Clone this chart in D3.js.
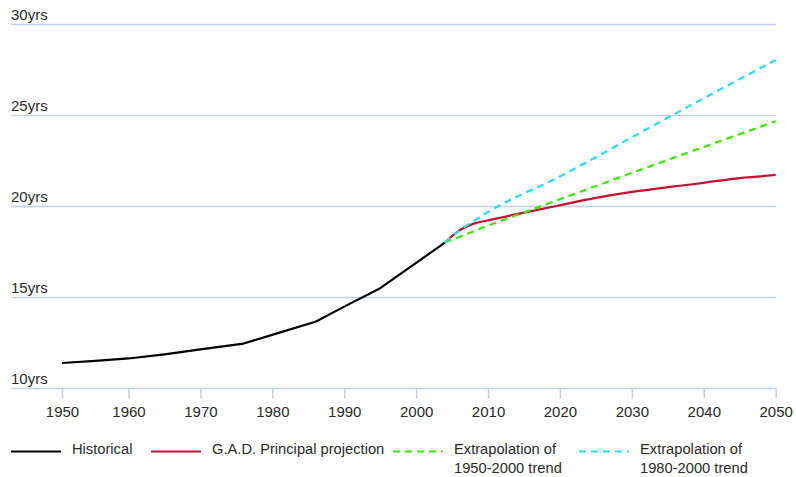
<!DOCTYPE html>
<html>
<head>
<meta charset="utf-8">
<script src="https://cdn.jsdelivr.net/npm/d3@7"></script>
<style>
  html, body { margin: 0; padding: 0; background: #fff; }
  svg { display: block; }
  text { font-family: "Liberation Sans", Arial, sans-serif; fill: #2a2a2a; }
</style>
</head>
<body>
<script>
// ---- Data ----
const xTicks = [1950, 1960, 1970, 1980, 1990, 2000, 2010, 2020, 2030, 2040, 2050];
const yTicks = [10, 15, 20, 25, 30];
const yTickLabels = ["10yrs", "15yrs", "20yrs", "25yrs", "30yrs"];

const historicalYears  = [1950, 1955, 1960, 1965, 1970, 1976, 1981, 1986, 1990, 1995, 2000, 2004];
const historicalValues = [11.4, 11.52, 11.65, 11.88, 12.15, 12.47, 13.07, 13.67, 14.5, 15.51, 16.9, 18.02];

const gadYears  = [2004, 2005, 2006, 2008, 2010, 2015, 2020, 2025, 2030, 2035, 2040, 2045, 2048, 2050];
const gadValues = [18.02, 18.37, 18.68, 19.06, 19.24, 19.66, 20.07, 20.47, 20.8, 21.06, 21.3, 21.56, 21.66, 21.74];

const trend5000Years  = [2004, 2010, 2020, 2030, 2040, 2050];
const trend5000Values = [18.02, 18.95, 20.4, 21.85, 23.27, 24.68];

const trend8000Years  = [2004, 2005, 2006, 2008, 2010, 2020, 2030, 2040, 2050];
const trend8000Values = [18.02, 18.37, 18.68, 19.2, 19.7, 21.65, 23.8, 25.95, 28.05];

const legendItems = [
  { label: ["Historical"], color: "#000000", dash: null },
  { label: ["G.A.D. Principal projection"], color: "#c8102e", dash: null },
  { label: ["Extrapolation of", "1950-2000 trend"], color: "#33ee00", dash: "7,5" },
  { label: ["Extrapolation of", "1980-2000 trend"], color: "#22ddff", dash: "7,5" }
];

// ---- Layout ----
const W = 796, H = 477;
const svg = d3.select("body").append("svg").attr("width", W).attr("height", H);

const x = d3.scaleLinear().domain([1950, 1960, 2050]).range([62, 128.5, 775.7]);
const y = d3.scaleLinear().domain([10, 30]).range([388.5, 24.5]);

const gridColor = "#bdd1ee";

// grid lines
svg.append("g").selectAll("line").data(yTicks).join("line")
  .attr("x1", 11).attr("x2", 776)
  .attr("y1", d => y(d)).attr("y2", d => y(d))
  .attr("stroke", gridColor).attr("stroke-width", 1.5);

// y labels
svg.append("g").selectAll("text").data(yTicks).join("text")
  .attr("x", 11).attr("y", d => y(d) - 5)
  .style("font-size", "15px")
  .text((d, i) => yTickLabels[i]);

// x axis via d3.axisBottom
const xAxis = d3.axisBottom(x).tickValues(xTicks).tickFormat(d3.format("d")).tickSize(10).tickPadding(8);
const gx = svg.append("g").attr("transform", `translate(0,${y(10)})`).call(xAxis);
gx.select(".domain").remove();
gx.selectAll(".tick line").attr("stroke", gridColor).attr("stroke-width", 1.5);
gx.selectAll(".tick text").style("font-size", "15px")
  .style("font-family", '"Liberation Sans", Arial, sans-serif').attr("fill", "#2a2a2a");

// series
const zip = (a, b) => a.map((v, i) => [v, b[i]]);
const lineLin = d3.line().x(d => x(d[0])).y(d => y(d[1]));
const lineSmooth = d3.line().x(d => x(d[0])).y(d => y(d[1])).curve(d3.curveMonotoneX);

svg.append("path").datum(zip(historicalYears, historicalValues))
  .attr("d", lineLin).attr("fill", "none").attr("stroke", "#000").attr("stroke-width", 2.2)
  .attr("stroke-linejoin", "round");
svg.append("path").datum(zip(gadYears, gadValues))
  .attr("d", lineSmooth).attr("fill", "none").attr("stroke", "#c8102e").attr("stroke-width", 2.2);
svg.append("path").datum(zip(trend5000Years, trend5000Values))
  .attr("d", lineLin).attr("fill", "none").attr("stroke", "#33ee00").attr("stroke-width", 2.2)
  .attr("stroke-dasharray", "7,5");
svg.append("path").datum(zip(trend8000Years, trend8000Values))
  .attr("d", lineSmooth).attr("fill", "none").attr("stroke", "#22ddff").attr("stroke-width", 2.2)
  .attr("stroke-dasharray", "7,5");

// legend
const legendX = [11, 151, 393, 579];
const lg = svg.append("g").selectAll("g").data(legendItems).join("g")
  .attr("transform", (d, i) => `translate(${legendX[i]},0)`);
lg.append("line").attr("x1", 0).attr("x2", 50).attr("y1", 451.5).attr("y2", 451.5)
  .attr("stroke", d => d.color).attr("stroke-width", 2.2)
  .attr("stroke-dasharray", d => d.dash);
lg.each(function(d) {
  const t = d3.select(this).append("text").attr("x", 61).attr("y", 454).style("font-size", "14.7px");
  d.label.forEach((s, i) => t.append("tspan").attr("x", 61).attr("dy", i === 0 ? 0 : 18.7).text(s));
});
</script>
</body>
</html>
